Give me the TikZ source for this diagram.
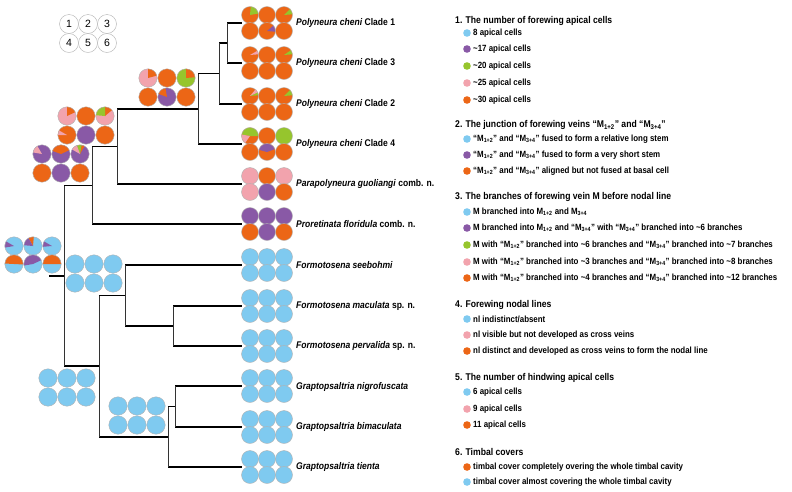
\documentclass[tikz,border=0pt]{standalone}
\usepackage{fontspec}
\setmainfont{Liberation Sans}
\newfontfamily\nar[FakeStretch=0.88]{Liberation Sans}
\definecolor{cB}{RGB}{127,202,240}
\definecolor{cP}{RGB}{137,89,166}
\definecolor{cG}{RGB}{150,197,45}
\definecolor{cK}{RGB}{242,163,173}
\definecolor{cO}{RGB}{236,102,22}
\newcommand\piec[5]{%
 \begin{scope}[shift={(#1,-#2)}]
 \def\pr{#3}%
 \fill[#4] (0,0) circle[radius=#3];
 #5
 \draw[pieo] (0,0) circle[radius=#3];
 \end{scope}}
\newcommand\wg[3]{\fill[#1] (0,0) -- (#2:\pr) arc[start angle=#2,end angle=#3,radius=\pr] -- cycle;}
\newcommand\litem[4]{\fill[#2] (467,-#1) circle[radius=3.8]; \node[itm] (#3) at (473,-#1) {#4};}
\newcommand\Mo{M\textsubscript{1+2}}
\newcommand\Mt{M\textsubscript{3+4}}
\newcommand\tld{\textasciitilde}
\begin{document}
\begin{tikzpicture}[x=1pt,y=1pt,
 pieo/.style={draw=black!30,line width=0.4pt},
 hl/.style={line width=1.5pt,black},
 vl/.style={line width=1pt,black!80},
 tip/.style={anchor=west,inner sep=0,font=\nar\bfseries\fontsize{9.7}{11}\selectfont},
 ttl/.style={anchor=west,inner sep=0,font=\nar\bfseries\fontsize{9.8}{11}\selectfont},
 itm/.style={anchor=west,inner sep=0,font=\nar\bfseries\fontsize{9}{10}\selectfont},
 keyc/.style={circle,draw=black!30,fill=white,minimum size=19pt,inner sep=0,font=\fontsize{10.5}{12}\selectfont}]
\useasboundingbox (0,0) rectangle (792,-491);
\fill[white] (0,0) rectangle (792,-491);

% key
\node[keyc] (k1) at (69,-24) {1};
\node[keyc] (k2) at (88,-24) {2};
\node[keyc] (k3) at (107,-24) {3};
\node[keyc] (k4) at (69,-43) {4};
\node[keyc] (k5) at (88,-43) {5};
\node[keyc] (k6) at (107,-43) {6};

% tips
\coordinate (t1) at (242,-23);
\coordinate (t2) at (242,-63);
\coordinate (t3) at (242,-104);
\coordinate (t4) at (242,-144);
\coordinate (t5) at (242,-184);
\coordinate (t6) at (242,-224);
\coordinate (t7) at (242,-265);
\coordinate (t8) at (242,-306);
\coordinate (t9) at (242,-346);
\coordinate (t10) at (242,-386);
\coordinate (t11) at (242,-427);
\coordinate (t12) at (242,-467);
% internal nodes
\coordinate (n1) at (227,-43);
\coordinate (n2) at (219,-73.5);
\coordinate (n3) at (198,-109);
\coordinate (n4) at (117,-146.5);
\coordinate (n5) at (92,-185.5);
\coordinate (n6) at (173,-326);
\coordinate (n7) at (125,-295.5);
\coordinate (n8) at (175,-406.5);
\coordinate (n9) at (168,-437);
\coordinate (n10) at (99,-366);
\coordinate (rt) at (64,-276);
\coordinate (r0) at (49,-276);

% horizontals
\draw[hl] (n1|-t1)--(t1); \draw[hl] (n1|-t2)--(t2);
\draw[hl] (n2|-n1)--(n1); \draw[hl] (n2|-t3)--(t3);
\draw[hl] (n3|-n2)--(n2); \draw[hl] (n3|-t4)--(t4);
\draw[hl] (n4|-n3)--(n3); \draw[hl] (n4|-t5)--(t5);
\draw[hl] (n5|-n4)--(n4); \draw[hl] (n5|-t6)--(t6);
\draw[hl] (rt|-n5)--(n5); \draw[hl] (rt|-n10)--(n10);
\draw[hl] (n10|-n7)--(n7); \draw[hl] (n10|-n9)--(n9);
\draw[hl] (n7|-t7)--(t7); \draw[hl] (n7|-n6)--(n6);
\draw[hl] (n6|-t8)--(t8); \draw[hl] (n6|-t9)--(t9);
\draw[hl] (n9|-n8)--(n8); \draw[hl] (n9|-t12)--(t12);
\draw[hl] (n8|-t10)--(t10); \draw[hl] (n8|-t11)--(t11);
\draw[hl] (r0)--(rt);
% verticals
\draw[vl] (n1|-t1)--(n1|-t2);
\draw[vl] (n2|-n1)--(n2|-t3);
\draw[vl] (n3|-n2)--(n3|-t4);
\draw[vl] (n4|-n3)--(n4|-t5);
\draw[vl] (n5|-n4)--(n5|-t6);
\draw[vl] (rt|-n5)--(rt|-n10);
\draw[vl] (n10|-n7)--(n10|-n9);
\draw[vl] (n7|-t7)--(n7|-n6);
\draw[vl] (n6|-t8)--(n6|-t9);
\draw[vl] (n9|-n8)--(n9|-t12);
\draw[vl] (n8|-t10)--(n8|-t11);

% terminal pies
% Clade 1
\piec{250}{15}{8.5}{cO}{\wg{cG}{10}{85}}
\piec{267}{15}{8.5}{cO}{}
\piec{284}{15}{8.5}{cO}{\wg{cG}{5}{45}}
\piec{250}{31}{8.5}{cO}{}
\piec{267}{31}{8.5}{cO}{\wg{cP}{-5}{40}}
\piec{284}{31}{8.5}{cO}{}
% Clade 3
\piec{250}{55}{8.5}{cO}{\wg{cK}{5}{30}}
\piec{267}{55}{8.5}{cO}{}
\piec{284}{55}{8.5}{cO}{\wg{cG}{5}{35}}
\piec{250}{71}{8.5}{cO}{}
\piec{267}{71}{8.5}{cO}{}
\piec{284}{71}{8.5}{cO}{}
% Clade 2
\piec{250}{96}{8.5}{cO}{\wg{cG}{5}{25}\wg{cK}{25}{50}}
\piec{267}{96}{8.5}{cO}{}
\piec{284}{96}{8.5}{cO}{\wg{cG}{5}{45}}
\piec{250}{112}{8.5}{cO}{}
\piec{267}{112}{8.5}{cO}{}
\piec{284}{112}{8.5}{cO}{}
% Clade 4
\piec{250}{136}{8.5}{cO}{\wg{cG}{0}{170}\wg{cK}{170}{235}}
\piec{267}{136}{8.5}{cO}{}
\piec{284}{136}{8.5}{cG}{}
\piec{250}{152}{8.5}{cO}{}
\piec{267}{152}{8.5}{cO}{\wg{cP}{20}{165}}
\piec{284}{152}{8.5}{cO}{}
% Parapolyneura
\piec{250}{176}{8.5}{cK}{}
\piec{267}{176}{8.5}{cO}{}
\piec{284}{176}{8.5}{cK}{}
\piec{250}{192}{8.5}{cK}{}
\piec{267}{192}{8.5}{cP}{}
\piec{284}{192}{8.5}{cO}{}
% Proretinata
\piec{250}{216}{8.5}{cP}{}
\piec{267}{216}{8.5}{cP}{}
\piec{284}{216}{8.5}{cP}{}
\piec{250}{232}{8.5}{cO}{}
\piec{267}{232}{8.5}{cP}{}
\piec{284}{232}{8.5}{cO}{}
% blue tips
\foreach \yy in {265,306,346,386,427,467}{
 \foreach \xx in {250,267,284}{
  \pgfmathsetmacro\ya{\yy-8}\pgfmathsetmacro\yb{\yy+8}
  \piec{\xx}{\ya}{8.5}{cB}{}
  \piec{\xx}{\yb}{8.5}{cB}{}
 }}

% ancestral pies
% node A
\piec{148}{78}{9.2}{cK}{\wg{cO}{15}{90}}
\piec{167}{78}{9.2}{cO}{}
\piec{186}{78}{9.2}{cG}{\wg{cO}{5}{90}}
\piec{148}{97}{9.2}{cO}{}
\piec{167}{97}{9.2}{cP}{\wg{cO}{100}{160}}
\piec{186}{97}{9.2}{cO}{}
% node B
\piec{67}{116}{9.2}{cK}{\wg{cO}{25}{90}}
\piec{86}{116}{9.2}{cO}{}
\piec{105}{116}{9.2}{cK}{\wg{cO}{40}{90}\wg{cG}{90}{175}}
\piec{67}{135}{9.2}{cO}{\wg{cK}{150}{180}}
\piec{86}{135}{9.2}{cP}{}
\piec{105}{135}{9.2}{cO}{}
% node C
\piec{42}{154}{9.2}{cP}{\wg{cK}{120}{170}}
\piec{61}{154}{9.2}{cP}{\wg{cO}{25}{160}}
\piec{80}{154}{9.2}{cP}{\wg{cO}{60}{80}\wg{cG}{80}{110}\wg{cK}{110}{150}}
\piec{42}{173}{9.2}{cO}{}
\piec{61}{173}{9.2}{cP}{}
\piec{80}{173}{9.2}{cO}{}
% root
\piec{14}{246}{9.2}{cB}{\wg{cP}{150}{190}}
\piec{33}{246}{9.2}{cB}{\wg{cO}{85}{120}\wg{cP}{120}{175}}
\piec{52}{246}{9.2}{cB}{\wg{cP}{150}{185}}
\piec{14}{264}{9.2}{cB}{\wg{cO}{-3}{177}}
\piec{33}{264}{9.2}{cB}{\wg{cP}{25}{190}}
\piec{52}{264}{9.2}{cB}{\wg{cO}{0}{180}}
% blue ancestral groups
\foreach \xa/\ya in {75/264, 48/378, 118/406}{
 \foreach \i in {0,1,2}{
  \pgfmathsetmacro\xc{\xa+19*\i}\pgfmathsetmacro\yc{\ya+19}
  \piec{\xc}{\ya}{9.2}{cB}{}
  \piec{\xc}{\yc}{9.2}{cB}{}
 }}

% tip labels
\node[tip] (L1) at (296,-23) {\textit{Polyneura cheni} Clade 1};
\node[tip] (L2) at (296,-63) {\textit{Polyneura cheni} Clade 3};
\node[tip] (L3) at (296,-104) {\textit{Polyneura cheni} Clade 2};
\node[tip] (L4) at (296,-144) {\textit{Polyneura cheni} Clade 4};
\node[tip] (L5) at (296,-184) {\textit{Parapolyneura guoliangi} comb. n.};
\node[tip] (L6) at (296,-224) {\textit{Proretinata floridula} comb. n.};
\node[tip] (L7) at (296,-265) {\textit{Formotosena seebohmi}};
\node[tip] (L8) at (296,-306) {\textit{Formotosena maculata} sp. n.};
\node[tip] (L9) at (296,-346) {\textit{Formotosena pervalida} sp. n.};
\node[tip] (L10) at (296,-387) {\textit{Graptopsaltria nigrofuscata}};
\node[tip] (L11) at (296,-427) {\textit{Graptopsaltria bimaculata}};
\node[tip] (L12) at (296,-467) {\textit{Graptopsaltria tienta}};

% legend
\node[ttl] (T1) at (455,-21) {1. The number of forewing apical cells};
\litem{33}{cB}{a1}{8 apical cells}
\litem{49}{cP}{a2}{\tld17 apical cells}
\litem{66}{cG}{a3}{\tld20 apical cells}
\litem{83}{cK}{a4}{\tld25 apical cells}
\litem{100}{cO}{a5}{\tld30 apical cells}

\node[ttl] (T2) at (455,-125) {2. The junction of forewing veins “\Mo” and “\Mt”};
\litem{139}{cB}{b1}{“\Mo” and “\Mt” fused to form a relative long stem}
\litem{155}{cP}{b2}{“\Mo” and “\Mt” fused to form a very short stem}
\litem{171}{cO}{b3}{“\Mo” and “\Mt” aligned but not fused at basal cell}

\node[ttl] (T3) at (455,-197) {3. The branches of forewing vein M before nodal line};
\litem{212}{cB}{c1}{M branched into \Mo\ and \Mt}
\litem{228}{cP}{c2}{M branched into \Mo\ and “\Mt” with “\Mt” branched into \tld6 branches}
\litem{245}{cG}{c3}{M with “\Mo” branched into \tld6 branches and “\Mt” branched into \tld7 branches}
\litem{262}{cK}{c4}{M with “\Mo” branched into \tld3 branches and “\Mt” branched into \tld8 branches}
\litem{278}{cO}{c5}{M with “\Mo” branched into \tld4 branches and “\Mt” branched into \tld12 branches}

\node[ttl] (T4) at (455,-305) {4. Forewing nodal lines};
\litem{319}{cB}{d1}{nl indistinct/absent}
\litem{335}{cK}{d2}{nl visible but not developed as cross veins}
\litem{351}{cO}{d3}{nl distinct and developed as cross veins to form the nodal line}

\node[ttl] (T5) at (455,-378) {5. The number of hindwing apical cells};
\litem{392}{cB}{e1}{6 apical cells}
\litem{409}{cK}{e2}{9 apical cells}
\litem{425}{cO}{e3}{11 apical cells}

\node[ttl] (T6) at (455,-452) {6. Timbal covers};
\litem{467}{cO}{f1}{timbal cover completely overing the whole timbal cavity}
\litem{482}{cB}{f2}{timbal cover almost covering the whole timbal cavity}
\end{tikzpicture}
\end{document}
